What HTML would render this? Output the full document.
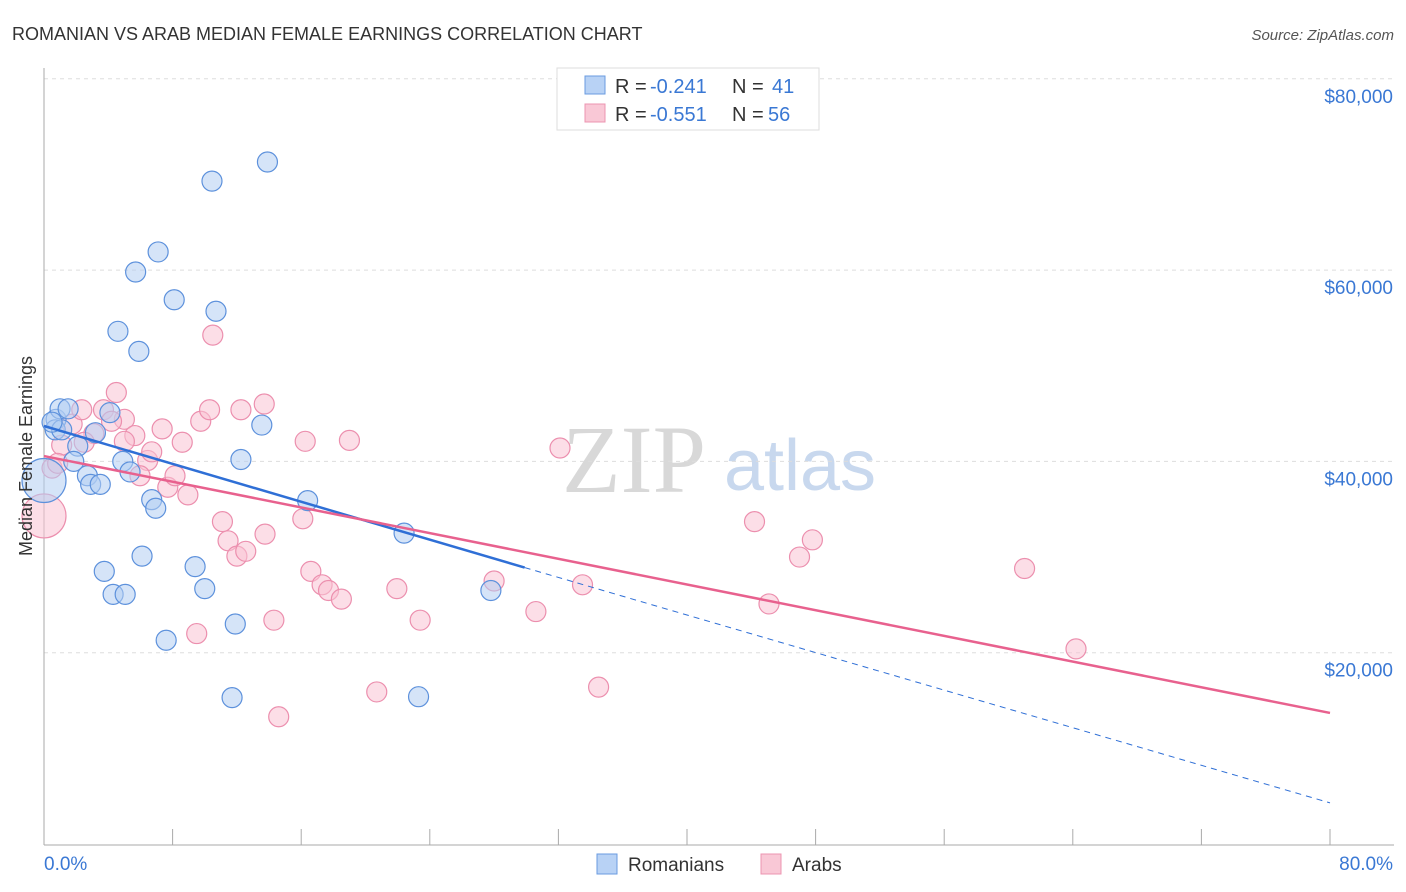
<!DOCTYPE html>
<html><head><meta charset="utf-8">
<style>
body{margin:0;background:#fff;font-family:"Liberation Sans",sans-serif;}
svg{display:block}
</style></head>
<body>
<svg id="chart" width="1406" height="892">
<text x="12" y="40" font-size="18" fill="#333">ROMANIAN VS ARAB MEDIAN FEMALE EARNINGS CORRELATION CHART</text>
<text x="1394" y="40" font-size="15" fill="#555" font-style="italic" text-anchor="end">Source: ZipAtlas.com</text>
<text x="634" y="492" font-size="96" fill="#d8d8d8" font-family="Liberation Serif" text-anchor="middle">ZIP</text>
<text x="800" y="490" font-size="72" fill="#c8d8ee" text-anchor="middle">atlas</text>
<g id="grid"></g>
<g id="axes"></g>
<g id="marks"></g>
<text x="32" y="456" font-size="18" fill="#333" text-anchor="middle" transform="rotate(-90 32 456)">Median Female Earnings</text>
<g>
<rect x="557" y="68" width="262" height="62" fill="#fff" stroke="#ddd"/>
<rect x="585" y="76" width="20" height="18" fill="#b8d2f5" stroke="#6a9be0"/>
<rect x="585" y="104" width="20" height="18" fill="#f9c8d6" stroke="#ec94b0"/>
<text y="93" font-size="20" fill="#333"><tspan x="615">R =</tspan><tspan x="650" fill="#3a78d4">-0.241</tspan><tspan x="732">N =</tspan><tspan x="772" fill="#3a78d4">41</tspan></text>
<text y="121" font-size="20" fill="#333"><tspan x="615">R =</tspan><tspan x="650" fill="#3a78d4">-0.551</tspan><tspan x="732">N =</tspan><tspan x="768" fill="#3a78d4">56</tspan></text>
</g>
<g>
<rect x="597" y="854" width="20" height="20" fill="#b8d2f5" stroke="#6a9be0"/>
<text x="628" y="871" font-size="19" fill="#333">Romanians</text>
<rect x="761" y="854" width="20" height="20" fill="#f9c8d6" stroke="#ec94b0"/>
<text x="792" y="871" font-size="19" fill="#333">Arabs</text>
</g>
</svg>
<script>
const yTicks=[20000,40000,60000,80000];
const yTickLabels=["$20,000","$40,000","$60,000","$80,000"];
const xTickLabels=["0.0%","80.0%"];
const romX=[0.75,1.0,1.5,0.7,1.1,3.2,2.1,1.85,2.7,2.9,3.5,4.1,4.9,5.35,6.7,6.95,6.1,3.75,4.3,5.05,7.6,9.4,10.0,11.9,11.7,23.3,12.25,13.55,16.4,22.4,27.8,4.6,5.9,5.7,7.1,8.1,10.7,10.45,13.9,0.0,0.5];
const romY=[44400,45500,45500,43300,43300,43000,41600,40000,38500,37600,37600,45100,40000,38900,36000,35100,30100,28500,26100,26100,21300,29000,26700,23000,15300,15400,40200,43800,35900,32500,26500,53600,51500,59800,61900,56900,55700,69300,71300,38000,44100];
const arbX=[0.0,0.5,1.1,1.75,2.35,3.1,4.5,3.7,5.0,5.65,6.45,6.7,7.35,7.7,8.15,8.6,8.95,9.75,10.3,10.5,9.5,11.1,11.45,12.0,12.55,13.75,13.7,12.25,14.3,14.6,16.1,16.25,16.6,17.3,17.7,18.5,19.0,20.7,21.95,23.4,28.0,30.6,32.1,33.5,34.5,44.2,45.1,47.0,47.8,61.0,64.2,0.85,2.5,4.2,5.97,5.0];
const arbY=[34300,39300,41700,43900,45400,42900,47200,45400,44400,42700,40100,41000,43400,37300,38500,42000,36500,44200,45400,53200,22000,33700,31700,30100,30600,32400,46000,45400,23400,13300,34000,42100,28500,27100,26500,25600,42200,15900,26700,23400,27500,24300,41400,27100,16400,33700,25100,30000,31800,28800,20400,39800,42000,44200,38500,42100];
const trendRom=[[0,43700],[29.9,28900],[80,4300]];
const trendArb=[[0,40560],[80,13700]];
const NS="http://www.w3.org/2000/svg";
const X=p=>44+p*16.075, Y=v=>844-v*191.3/20000;
function mk(tag,attrs,parent){const e=document.createElementNS(NS,tag);for(const k in attrs)e.setAttribute(k,attrs[k]);document.getElementById(parent).appendChild(e);return e;}
yTicks.forEach((t,i)=>{
 const g=mk('line',{x1:44,x2:1394,y1:Y(t),y2:Y(t),stroke:'#ddd','stroke-dasharray':'4,4'},'grid');
 
 
 const l=mk('text',{x:1393,y:Y(t)+24,'font-size':19,fill:'#3a78d4','text-anchor':'end'},'axes');
 l.textContent=yTickLabels[i];
 
 
});
const ax=mk('line',{x1:44,x2:44,y1:68,y2:845,stroke:'#aaa'},'axes');


const bx=mk('line',{x1:44,x2:1394,y1:845,y2:845,stroke:'#aaa'},'axes');


for(let i=0;i<=10;i++){const t=mk('line',{x1:X(i*8),x2:X(i*8),y1:829,y2:845,stroke:'#aaa'},'axes');
 
 }
const xl0=mk('text',{x:44,y:870,'font-size':19,fill:'#3a78d4'},'axes');xl0.textContent=xTickLabels[0];


const xl1=mk('text',{x:1393,y:870,'font-size':19,fill:'#3a78d4','text-anchor':'end'},'axes');xl1.textContent=xTickLabels[1];


function pts(xs,ys,fill,stroke,name){xs.forEach((x,i)=>{const big=(x===0);
 const c=mk('circle',{cx:X(x),cy:Y(ys[i]),r:big?22:10,fill:fill,'fill-opacity':0.55,stroke:stroke,'stroke-width':1.2},'marks');
 
 });}
pts(arbX,arbY,'#f9c2d3','#ec8fae','point-arabs');
pts(romX,romY,'#b3cdf3','#5d91dc','point-romanians');
const rl=mk('line',{x1:X(trendRom[0][0]),y1:Y(trendRom[0][1]),x2:X(trendRom[1][0]),y2:Y(trendRom[1][1]),stroke:'#2f6fd6','stroke-width':2.5},'marks');


const rd=mk('line',{x1:X(trendRom[1][0]),y1:Y(trendRom[1][1]),x2:X(trendRom[2][0]),y2:Y(trendRom[2][1]),stroke:'#2f6fd6','stroke-width':1,'stroke-dasharray':'6,5'},'marks');


const al=mk('line',{x1:X(trendArb[0][0]),y1:Y(trendArb[0][1]),x2:X(trendArb[1][0]),y2:Y(trendArb[1][1]),stroke:'#e8618e','stroke-width':2.5},'marks');


</script>
</body></html>
